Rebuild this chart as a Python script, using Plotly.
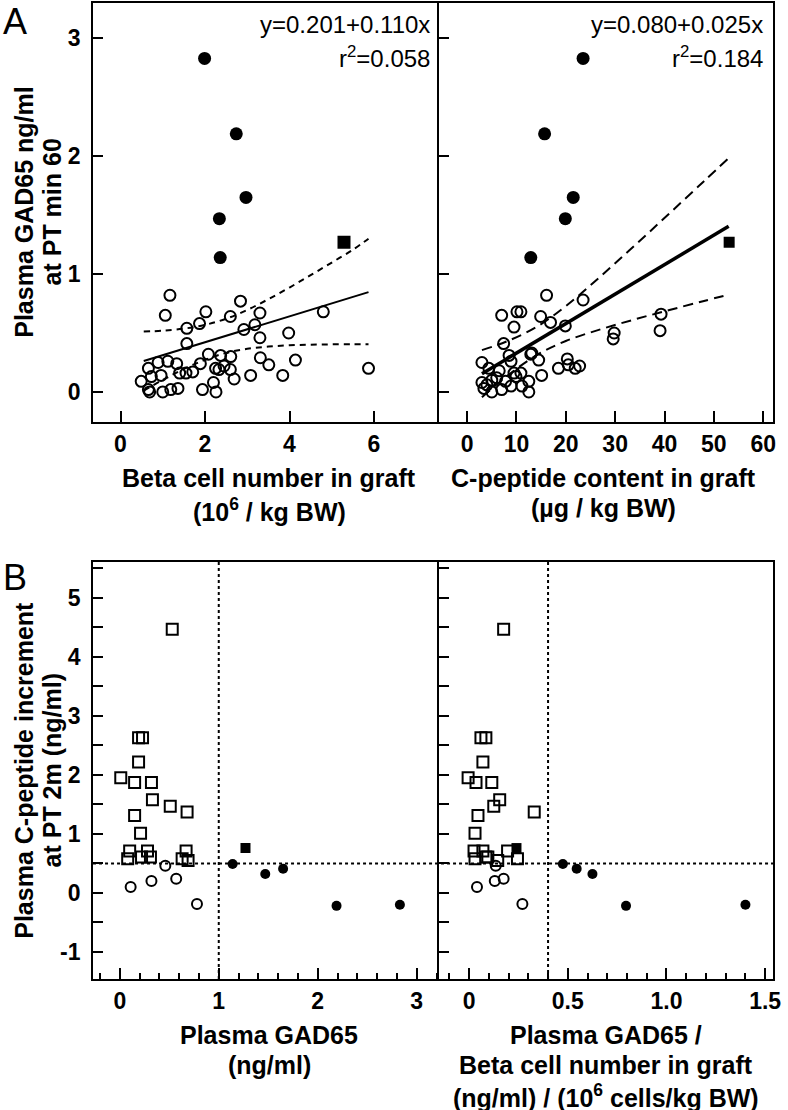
import plotly.graph_objects as go

W, H = 788, 1110

# ---------------- Panel A (left): beta cell number vs plasma GAD65 ----------------
a_open_x = [1.17, 1.06, 2.02, 2.84, 2.60, 3.30, 1.87, 1.57, 3.18, 2.92, 4.80, 3.98, 3.30, 1.57,
            2.08, 2.37, 2.61, 3.51, 4.14, 3.08, 3.84, 0.66, 0.89, 1.12, 1.33, 1.55, 1.71, 1.40,
            1.89, 0.49, 0.73, 0.96, 0.66, 0.69, 1.00, 1.19, 1.36, 1.94, 2.20, 2.26, 2.25, 2.33,
            2.60, 2.69, 2.45, 3.31, 5.87]
a_open_y = [0.82, 0.65, 0.68, 0.77, 0.64, 0.67, 0.58, 0.54, 0.57, 0.53, 0.68, 0.50, 0.46, 0.41,
            0.32, 0.31, 0.30, 0.23, 0.27, 0.14, 0.14, 0.20, 0.25, 0.26, 0.24, 0.16, 0.17, 0.16,
            0.24, 0.09, 0.13, 0.14, 0.02, 0.00, 0.00, 0.02, 0.03, 0.02, 0.08, 0.00, 0.20, 0.19,
            0.19, 0.11, 0.22, 0.29, 0.20]
a_fill_x = [1.99, 2.74, 2.97, 2.34, 2.36]
a_fill_y = [2.83, 2.19, 1.65, 1.47, 1.14]
a_sq_x = [5.29]
a_sq_y = [1.27]
a_fit_x = [0.55, 5.87]
a_fit_y = [0.262, 0.847]
a_band_x = [0.55, 1.0, 1.5, 2.0, 2.5, 3.0, 3.5, 4.0, 4.5, 5.0, 5.5, 5.87]
a_band_up = [0.512, 0.520, 0.537, 0.569, 0.621, 0.696, 0.787, 0.886, 0.991, 1.098, 1.207, 1.300]
a_band_lo = [0.012, 0.102, 0.195, 0.273, 0.331, 0.366, 0.385, 0.396, 0.401, 0.404, 0.405, 0.405]

# ---------------- Panel A (right): C-peptide content vs plasma GAD65 ----------------
b_open_x = [3.0, 4.4, 7.4, 8.5, 8.9, 12.9, 14.5, 15.1, 3.4, 3.0, 5.0, 6.0, 7.0, 8.9, 9.5, 9.9,
            10.9, 12.5, 12.5, 18.5, 20.5, 21.9, 5.0, 7.8, 11.1, 16.1, 10.9, 10.1, 7.0, 14.9,
            9.5, 16.9, 19.9, 23.5, 13.1, 29.8, 29.6, 39.3, 39.1, 20.3, 22.8, 4.0, 6.5]
b_open_y = [0.25, 0.20, 0.41, 0.31, 0.26, 0.32, 0.27, 0.14, 0.03, 0.08, 0.00, 0.12, 0.02, 0.05,
            0.16, 0.13, 0.16, 0.09, 0.00, 0.20, 0.23, 0.20, 0.10, 0.09, 0.05, 0.82, 0.68, 0.68,
            0.65, 0.64, 0.55, 0.59, 0.56, 0.78, 0.33, 0.50, 0.45, 0.66, 0.52, 0.28, 0.22, 0.06, 0.18]
b_fill_x = [23.5, 15.7, 21.5, 19.9, 12.9]
b_fill_y = [2.83, 2.19, 1.65, 1.47, 1.14]
b_sq_x = [53.1]
b_sq_y = [1.27]
b_fit_x = [3.0, 53.0]
b_fit_y = [0.155, 1.405]
b_band_x = [3, 8, 14, 20, 27, 34, 41, 48, 53]
b_band_up = [0.355, 0.428, 0.550, 0.728, 0.979, 1.244, 1.515, 1.788, 1.984]
b_band_lo = [-0.045, 0.132, 0.310, 0.432, 0.531, 0.616, 0.695, 0.772, 0.826]

# ---------------- Panel B: C-peptide increment ----------------
c_sq_y = [4.47, 2.63, 2.63, 2.22, 1.95, 1.87, 1.87, 1.58, 1.47, 1.37, 1.31, 1.01, 0.71, 0.71,
          0.71, 0.58, 0.61, 0.61, 0.58, 0.55]
c_sq_x = [0.53, 0.19, 0.23, 0.19, 0.01, 0.15, 0.32, 0.33, 0.51, 0.68, 0.15, 0.21, 0.10, 0.28,
          0.67, 0.08, 0.22, 0.31, 0.63, 0.69]
d_sq_x = [0.175, 0.06, 0.085, 0.07, -0.005, 0.035, 0.115, 0.155, 0.125, 0.33, 0.045, 0.03, 0.025,
          0.07, 0.195, 0.03, 0.085, 0.095, 0.245, 0.145]
c_circ_y = [0.46, 0.20, 0.24, 0.10, -0.19]
c_circ_x = [0.46, 0.32, 0.57, 0.11, 0.78]
d_circ_x = [0.135, 0.13, 0.175, 0.04, 0.27]
c_fill_y = [0.49, 0.32, 0.41, -0.22, -0.20]
c_fill_x = [1.14, 1.47, 1.65, 2.19, 2.83]
d_fill_x = [0.475, 0.625, 0.545, 0.795, 1.40]
c_fsq_y = [0.76]
c_fsq_x = [1.27]
d_fsq_x = [0.24]

# thresholds
gad_cut = 1.0
ratio_cut = 0.4
cpep_cut = 0.5

# tick labels
a_xl_ticks = [0, 2, 4, 6]
a_xr_ticks = [0, 10, 20, 30, 40, 50, 60]
a_y_ticks = [0, 1, 2, 3]
b_xl_ticks = [0, 1, 2, 3]
b_xr_ticks = [0, 0.5, 1.0, 1.5]
b_xr_text = ["0", "0.5", "1.0", "1.5"]
b_y_ticks = [-1, 0, 1, 2, 3, 4, 5]
b_y_text = ["-1", "0", "1", "2", "3", "4", "5"]


def bold(vals):
    return ["<b>%s</b>" % v for v in vals]


fig = go.Figure()

def open_circ(x, y, xa, ya, size=11):
    return go.Scatter(x=x, y=y, mode="markers", xaxis=xa, yaxis=ya, showlegend=False,
                      marker=dict(symbol="circle-open", size=size, color="black",
                                  line=dict(width=2, color="black")))

def filled(x, y, xa, ya, sym="circle", size=13):
    return go.Scatter(x=x, y=y, mode="markers", xaxis=xa, yaxis=ya, showlegend=False,
                      marker=dict(symbol=sym, size=size, color="black",
                                  line=dict(width=0)))

def line(x, y, xa, ya, width=2, dash="solid", shape="linear"):
    return go.Scatter(x=x, y=y, mode="lines", xaxis=xa, yaxis=ya, showlegend=False,
                      line=dict(color="black", width=width, dash=dash, shape=shape))

# Panel A left
fig.add_trace(line(a_band_x, a_band_up, "x", "y", 2, "6px,5px", "spline"))
fig.add_trace(line(a_band_x, a_band_lo, "x", "y", 2, "6px,5px", "spline"))
fig.add_trace(line(a_fit_x, a_fit_y, "x", "y", 2))
fig.add_trace(open_circ(a_open_x, a_open_y, "x", "y"))
fig.add_trace(filled(a_fill_x, a_fill_y, "x", "y", "circle", 13))
fig.add_trace(filled(a_sq_x, a_sq_y, "x", "y", "square", 13))

# Panel A right
fig.add_trace(line(b_band_x, b_band_up, "x2", "y2", 2, "10px,6px", "spline"))
fig.add_trace(line(b_band_x, b_band_lo, "x2", "y2", 2, "10px,6px", "spline"))
fig.add_trace(line(b_fit_x, b_fit_y, "x2", "y2", 3.5))
fig.add_trace(open_circ(b_open_x, b_open_y, "x2", "y2"))
fig.add_trace(filled(b_fill_x, b_fill_y, "x2", "y2", "circle", 13))
fig.add_trace(filled(b_sq_x, b_sq_y, "x2", "y2", "square", 11))

# Panel B left / right
for xs_sq, xs_c, xs_f, xs_fs, xa, ya in [(c_sq_x, c_circ_x, c_fill_x, c_fsq_x, "x3", "y3"),
                                         (d_sq_x, d_circ_x, d_fill_x, d_fsq_x, "x4", "y4")]:
    fig.add_trace(go.Scatter(x=xs_sq, y=c_sq_y, mode="markers", xaxis=xa, yaxis=ya, showlegend=False,
                             marker=dict(symbol="square-open", size=11, color="black",
                                         line=dict(width=2, color="black"))))
    fig.add_trace(open_circ(xs_c, c_circ_y, xa, ya, 10))
    fig.add_trace(filled(xs_f, c_fill_y, xa, ya, "circle", 10))
    fig.add_trace(filled(xs_fs, c_fsq_y, xa, ya, "square", 10))

L, DIV, R = 94, 444, 781
A_T, A_B = 3, 422
B_T, B_B = 562, 979

def dx(a, b):
    return [a / W, b / W]

def dy(top, bot):
    return [1 - bot / H, 1 - top / H]

tickfont = dict(family="Liberation Sans, Arial", size=23, color="black", weight="bold")
base = dict(showline=True, linewidth=2, linecolor="black", showgrid=False,
            zeroline=False, ticks="inside", tickwidth=2, tickcolor="black", tickfont=tickfont)

def minor(d, ln):
    return dict(tickmode="linear", tick0=0, dtick=d, ticks="inside", ticklen=ln,
                tickwidth=2, tickcolor="black", showgrid=False)

fig.update_layout(
    width=W, height=H, autosize=False, margin=dict(l=0, r=0, t=0, b=0),
    paper_bgcolor="white", plot_bgcolor="white",
    xaxis=dict(base, mirror=True, domain=dx(L, DIV), anchor="y", range=[-0.65, 7.55],
               tickmode="array", tickvals=a_xl_ticks, ticktext=bold(a_xl_ticks),
               ticklen=11, ticklabelstandoff=0),
    yaxis=dict(base, mirror=False, domain=dy(A_T, A_B), anchor="x", range=[-0.255, 3.30],
               tickmode="array", tickvals=a_y_ticks, ticktext=bold(a_y_ticks),
               ticklen=10, ticklabelstandoff=6),
    xaxis2=dict(base, mirror=True, domain=dx(DIV, R), anchor="y2", range=[-5.6, 62],
                tickmode="array", tickvals=a_xr_ticks, ticktext=bold(a_xr_ticks),
                ticklen=11, ticklabelstandoff=0),
    yaxis2=dict(base, mirror=True, domain=dy(A_T, A_B), anchor="x2", range=[-0.255, 3.30],
                tickmode="array", tickvals=a_y_ticks, ticklen=10, showticklabels=False),
    xaxis3=dict(base, mirror=True, domain=dx(L, DIV), anchor="y3", range=[-0.27, 3.23],
                tickmode="array", tickvals=b_xl_ticks, ticktext=bold(b_xl_ticks),
                ticklen=11, ticklabelstandoff=0, minor=minor(0.2, 6)),
    yaxis3=dict(base, mirror=False, domain=dy(B_T, B_B), anchor="x3", range=[-1.46, 5.61],
                tickmode="array", tickvals=b_y_ticks, ticktext=bold(b_y_text), ticklen=10,
                ticklabelstandoff=6, minor=minor(0.5, 10)),
    xaxis4=dict(base, mirror=True, domain=dx(DIV, R), anchor="y4", range=[-0.15, 1.54],
                tickmode="array", tickvals=b_xr_ticks, ticktext=bold(b_xr_text),
                ticklen=11, ticklabelstandoff=0, minor=minor(0.1, 6)),
    yaxis4=dict(base, mirror=True, domain=dy(B_T, B_B), anchor="x4", range=[-1.46, 5.61],
                tickmode="array", tickvals=b_y_ticks, ticklen=10, showticklabels=False,
                minor=minor(0.5, 10)),
)

# dotted threshold lines
dot = dict(color="black", width=2, dash="dot")
fig.add_shape(type="line", xref="x3", yref="y3 domain", x0=gad_cut, x1=gad_cut, y0=0, y1=1, line=dot)
fig.add_shape(type="line", xref="x4", yref="y4 domain", x0=ratio_cut, x1=ratio_cut, y0=0, y1=1, line=dot)
fig.add_shape(type="line", xref="paper", yref="y3", x0=L / W, x1=R / W, y0=cpep_cut, y1=cpep_cut, line=dot)

title_font = dict(family="Liberation Sans, Arial", size=25, color="black", weight="bold")
reg_font = dict(family="Liberation Sans, Arial", size=24, color="black")

def ann(text, x, y, font, xanchor="center", angle=0):
    fig.add_annotation(text=text, x=x / W, y=1 - y / H, xref="paper", yref="paper",
                       xanchor=xanchor, yanchor="middle", showarrow=False, font=font,
                       textangle=angle)

# panel letters
ann("A", 1, 21, dict(family="Liberation Sans, Arial", size=36, color="black"), "left")
ann("B", 1, 577, dict(family="Liberation Sans, Arial", size=36, color="black"), "left")

# regression equations
ann("y=0.201+0.110x", 436, 24, reg_font, "right")
ann("r<sup>2</sup>=0.058", 436, 57, reg_font, "right")
ann("y=0.080+0.025x", 773, 24, reg_font, "right")
ann("r<sup>2</sup>=0.184", 773, 57, reg_font, "right")

# x titles
ann("<b>Beta cell number in graft</b>", 272, 478, title_font)
ann("<b>(10<sup>6</sup> / kg BW)</b>", 272, 510, title_font)
ann("<b>C-peptide content in graft</b>", 610, 478, title_font)
ann("<b>(µg / kg BW)</b>", 610, 508, title_font)
ann("<b>Plasma GAD65</b>", 272, 1035, title_font)
ann("<b>(ng/ml)</b>", 272, 1065, title_font)
ann("<b>Plasma GAD65 /</b>", 612, 1035, title_font)
ann("<b>Beta cell number in graft</b>", 612, 1065, title_font)
ann("<b>(ng/ml) / (10<sup>6</sup> cells/kg BW)</b>", 612, 1096, title_font)

# y titles
ann("<b>Plasma GAD65 ng/ml</b>", 24, 212, title_font, angle=-90)
ann("<b>at PT min 60</b>", 53, 212, title_font, angle=-90)
ann("<b>Plasma C-peptide increment</b>", 24, 770, title_font, angle=-90)
ann("<b>at PT 2m (ng/ml)</b>", 53, 770, title_font, angle=-90)

fig.write_html("out.html", config={"displayModeBar": False},
               post_script="document.body.style.margin='0px';"
                           "document.documentElement.style.overflow='hidden';")
